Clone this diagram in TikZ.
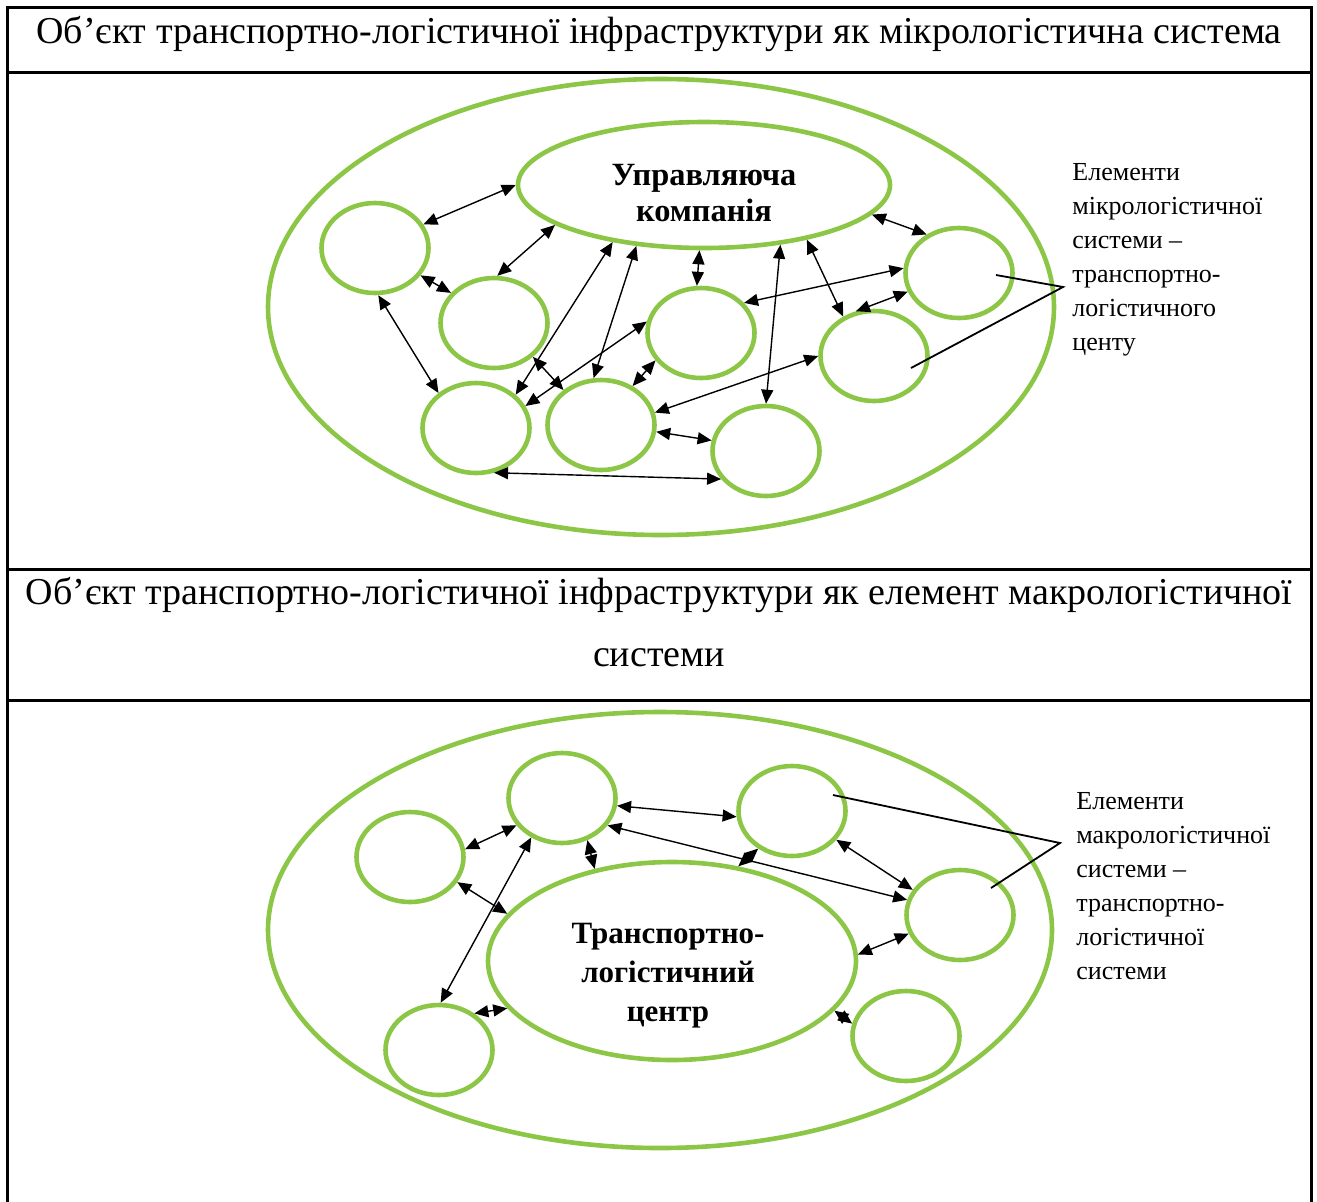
\documentclass[tikz,border=0pt]{standalone}
\usepackage{fontspec}
\setmainfont{Liberation Serif}
\usetikzlibrary{arrows.meta,shapes.geometric}
\definecolor{leaf}{RGB}{140,198,70}

\begin{document}
\begin{tikzpicture}[x=0.5pt,y=-0.5pt,
  frame/.style={line width=1.5pt,line cap=rect},
  ring/.style 2 args={draw=leaf,line width=2.3pt,shape=ellipse,inner sep=0pt,
    minimum width=#1*0.5pt,minimum height=#2*0.5pt},
  cell/.style={ring={107}{90}},
  link/.style={{Triangle[length=7pt,width=6pt]}-{Triangle[length=7pt,width=6pt]},line width=0.7pt},
  leader/.style={line width=0.9pt},
  heading/.style={font=\fontsize{19pt}{31pt}\selectfont,inner sep=0pt,anchor=base},
  core/.style={font=\fontsize{16.2pt}{18pt}\bfseries\selectfont,align=center,inner sep=0pt},
  note/.style={font=\fontsize{13pt}{17pt}\selectfont,align=left,inner sep=0pt,anchor=base west}]

\useasboundingbox (0,0) rectangle (1317,1201);

% table frame
\draw[frame] (7,1210) -- (7,7) -- (1311,7) -- (1311,1210);
\draw[frame] (7,72) -- (1311,72);
\draw[frame] (7,569) -- (1311,569);
\draw[frame] (7,700) -- (1311,700);

% headings
\node[heading] (h1) at (659,43) {Об’єкт транспортно-логістичної інфраструктури як мікрологістична система};
\node[heading] (h2) at (659,604) {Об’єкт транспортно-логістичної інфраструктури як елемент макрологістичної};
\node[heading] (h3) at (659,666) {системи};

% ---------- micrologistic system ----------
\node[ring={786}{456}] (outerA) at (661,307) {};
\node[ring={372}{126}] (uk) at (704,185) {};
\node[core] (uktext) at (704,193) {Управляюча\\компанія};

\node[cell] (c1) at (375,248) {};
\node[cell] (c2) at (494,323) {};
\node[cell] (c3) at (476,428) {};
\node[cell] (c4) at (601,425) {};
\node[cell] (c5) at (701,333) {};
\node[cell] (c6) at (766,451) {};
\node[cell] (c7) at (874,356) {};
\node[cell] (c8) at (959,273) {};

\draw[link] (c1.26) -- (uk.180);
\draw[link] (c2.86) -- (uk.195);
\draw[link] (c1.-31) -- (c2.145);
\draw[link] (c1.-86) -- (c3.137);
\draw[link] (c3.40) -- (uk.212);
\draw[link] (c3.24) -- (c5.168);
\draw[link] (c2.-41) -- (c4.137);
\draw[link] (c4.99) -- (uk.222);
\draw[link] (uk.266) -- (c5.95);
\draw[link] (c4.51) -- (c5.211);
\draw[link] (c4.13) -- (c7.180);
\draw[link] (c4.-7) -- (c6.169);
\draw[link] (c3.-68) -- (c6.212);
\draw[link] (c5.35) -- (c8.175);
\draw[link] (uk.-10) -- (c8.130);
\draw[link] (uk.-38) -- (c6.90);
\draw[link] (uk.-28) -- (c7.128);
\draw[link] (c7.112) -- (c8.200);

\coordinate (mA) at (1063,287);
\coordinate (pA1) at (996,275);
\coordinate (pA2) at (911,368);
\draw[leader] (pA1) -- (mA) -- (pA2);
\node[note] (noteA) at (1072,350) {Елементи\\мікрологістичної\\системи –\\транспортно-\\логістичного\\центу};

% ---------- macrologistic system ----------
\node[ring={784}{436}] (outerB) at (660,930) {};
\node[ring={368}{198}] (tlc) at (672,961) {};
\node[core,font=\fontsize{15.5pt}{19.5pt}\bfseries\selectfont] (tlctext) at (668,976) {Транспортно-\\логістичний\\центр};

\node[cell] (d1) at (410,857) {};
\node[cell] (d2) at (562,798) {};
\node[cell] (d3) at (439,1050) {};
\node[cell] (d4) at (792,811) {};
\node[cell] (d5) at (960,915) {};
\node[cell] (d6) at (906,1036) {};

\draw[link] (d1.8) -- (d2.211);
\draw[link] (d1.-28) -- (tlc.164);
\draw[link] (d2.232) -- (d3.88);
\draw[link] (d2.-59) -- (tlc.130);
\draw[link] (d3.46) -- (tlc.196);
\draw[link] (d2.-8) -- (d4.186);
\draw[link] (d2.-31) -- (d5.164);
\draw[link] (d4.228) -- (tlc.55);
\draw[link] (d4.-33) -- (d5.152);
\draw[link] (tlc.2) -- (d5.200);
\draw[link] (tlc.-17) -- (d6.167);

\coordinate (mB) at (1060,843);
\coordinate (pB1) at (833,795);
\coordinate (pB2) at (991,888);
\draw[leader] (pB1) -- (mB) -- (pB2);
\node[note] (noteB) at (1076,979) {Елементи\\макрологістичної\\системи –\\транспортно-\\логістичної\\системи};

\end{tikzpicture}
\end{document}
